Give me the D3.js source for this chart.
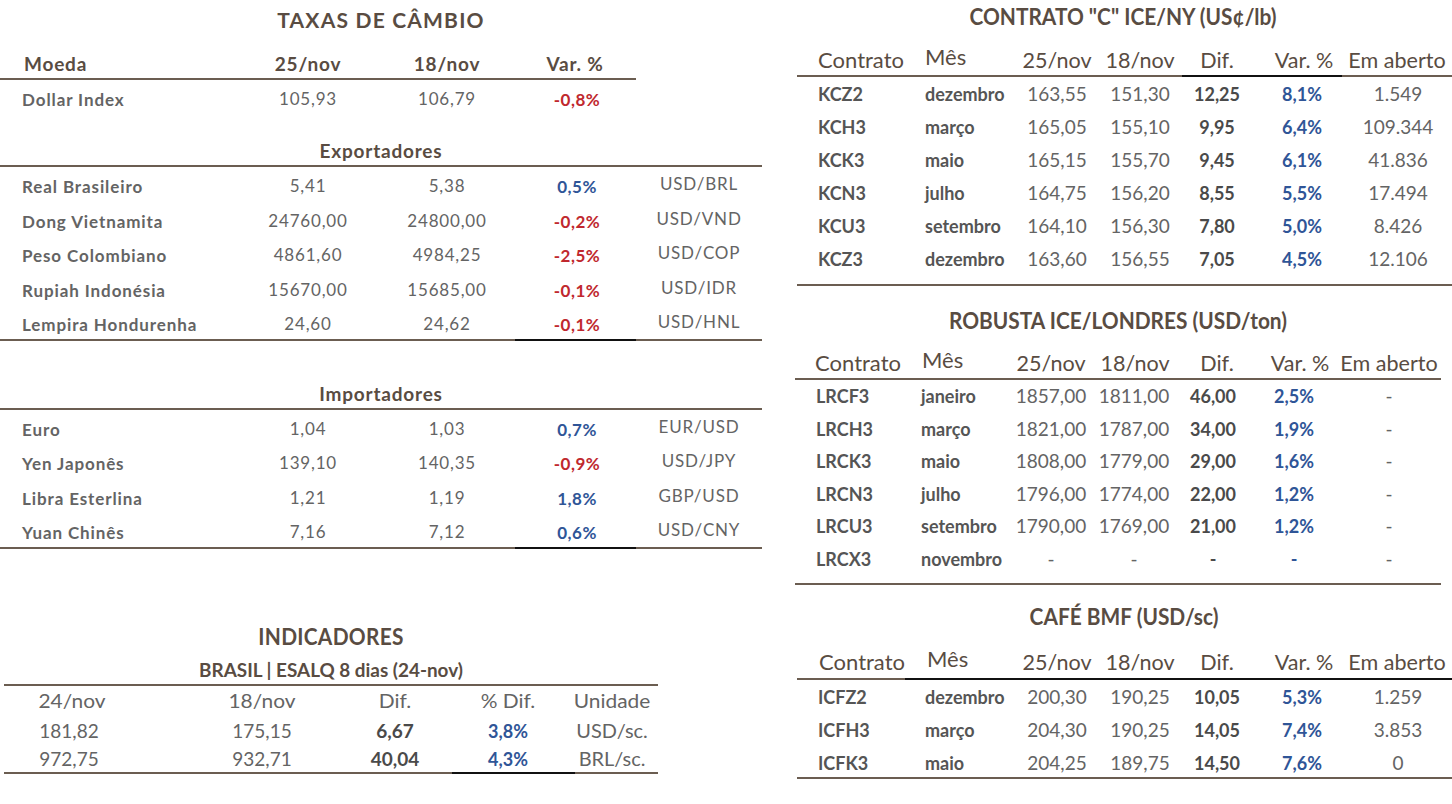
<!DOCTYPE html>
<html>
<head>
<meta charset="utf-8">
<script src="https://cdn.jsdelivr.net/npm/d3@7"></script>
<style>
  body { margin: 0; background: #fff; }
  svg { display: block; }
</style>
</head>
<body>
<svg id="board"></svg>
<script>
var W = 1452, H = 804;

// taxas de cambio
var fxHeader = ["Moeda", "25/nov", "18/nov", "Var. %"];
var dollarRow = ["Dollar Index", "105,93", "106,79", "-0,8%"];

var expNames = ["Real Brasileiro", "Dong Vietnamita", "Peso Colombiano", "Rupiah Indonésia", "Lempira Hondurenha"];
var exp25 = ["5,41", "24760,00", "4861,60", "15670,00", "24,60"];
var exp18 = ["5,38", "24800,00", "4984,25", "15685,00", "24,62"];
var expVar = ["0,5%", "-0,2%", "-2,5%", "-0,1%", "-0,1%"];
var expPair = ["USD/BRL", "USD/VND", "USD/COP", "USD/IDR", "USD/HNL"];

var impNames = ["Euro", "Yen Japonês", "Libra Esterlina", "Yuan Chinês"];
var imp25 = ["1,04", "139,10", "1,21", "7,16"];
var imp18 = ["1,03", "140,35", "1,19", "7,12"];
var impVar = ["0,7%", "-0,9%", "1,8%", "0,6%"];
var impPair = ["EUR/USD", "USD/JPY", "GBP/USD", "USD/CNY"];

// indicadores
var indHeader = ["24/nov", "18/nov", "Dif.", "% Dif.", "Unidade"];
var indNow = ["181,82", "972,75"];
var indPrev = ["175,15", "932,71"];
var indDif = ["6,67", "40,04"];
var indPct = ["3,8%", "4,3%"];
var indUnit = ["USD/sc.", "BRL/sc."];

// contratos
var ctHeader = ["Contrato", "Mês", "25/nov", "18/nov", "Dif.", "Var. %", "Em aberto"];

var nyCode = ["KCZ2", "KCH3", "KCK3", "KCN3", "KCU3", "KCZ3"];
var nyMonth = ["dezembro", "março", "maio", "julho", "setembro", "dezembro"];
var ny25 = ["163,55", "165,05", "165,15", "164,75", "164,10", "163,60"];
var ny18 = ["151,30", "155,10", "155,70", "156,20", "156,30", "156,55"];
var nyDif = ["12,25", "9,95", "9,45", "8,55", "7,80", "7,05"];
var nyVar = ["8,1%", "6,4%", "6,1%", "5,5%", "5,0%", "4,5%"];
var nyOpen = ["1.549", "109.344", "41.836", "17.494", "8.426", "12.106"];

var rbCode = ["LRCF3", "LRCH3", "LRCK3", "LRCN3", "LRCU3", "LRCX3"];
var rbMonth = ["janeiro", "março", "maio", "julho", "setembro", "novembro"];
var rb25 = ["1857,00", "1821,00", "1808,00", "1796,00", "1790,00", "-"];
var rb18 = ["1811,00", "1787,00", "1779,00", "1774,00", "1769,00", "-"];
var rbDif = ["46,00", "34,00", "29,00", "22,00", "21,00", "-"];
var rbVar = ["2,5%", "1,9%", "1,6%", "1,2%", "1,2%", "-"];
var rbOpen = ["-", "-", "-", "-", "-", "-"];

var bmCode = ["ICFZ2", "ICFH3", "ICFK3"];
var bmMonth = ["dezembro", "março", "maio"];
var bm25 = ["200,30", "204,30", "204,25"];
var bm18 = ["190,25", "190,25", "189,75"];
var bmDif = ["10,05", "14,05", "14,50"];
var bmVar = ["5,3%", "7,4%", "7,6%"];
var bmOpen = ["1.259", "3.853", "0"];

var BROWN = "#594c42", GREY = "#646464", DARK = "#4a4a4a",
    RED = "#c0282e", BLUE = "#2f5597", LINE = "#6b5d51";
var FONT = "Lato, 'Open Sans', sans-serif";

var svg = d3.select('#board')
    .attr('width', W)
    .attr('height', H)
    .style('font-family', FONT);

function txt(g, x, y, s, o) {
    o = o || {};
    let sx = o.sx || 1;
    g.append('text')
        .attr('transform', 'translate(' + x + ',' + y + ') scale(' + sx + ',1)')
        .attr('text-anchor', o.anchor || 'middle')
        .attr('font-size', o.size || 16)
        .attr('font-weight', o.weight || 400)
        .attr('fill', o.fill || GREY)
        .attr('letter-spacing', o.ls || 0)
        .text(s);
}

function rule(g, x1, x2, y, col, w) {
    g.append('line')
        .attr('x1', x1).attr('x2', x2)
        .attr('y1', y).attr('y2', y)
        .attr('stroke', col || LINE)
        .attr('stroke-width', w || 2);
}

function varColor(v) {
    if (v == "-") return BLUE;
    return v.charAt(0) == "-" ? RED : BLUE;
}

// ---------- left: taxas de cambio ----------
var left = svg.append('g');
var fxX = d3.scaleOrdinal()
    .domain(["name", "v25", "v18", "var", "pair"])
    .range([22, 308, 447, 577, 699]);
var LS = 0.8;  // wide look of the original font

txt(left, 381, 28, "TAXAS DE CÂMBIO", {size: 21, weight: 700, fill: BROWN, ls: 1.2});
txt(left, 24, 71, fxHeader[0], {anchor: 'start', size: 19, weight: 700, fill: BROWN, ls: LS});
txt(left, fxX("v25"), 71, fxHeader[1], {size: 19, weight: 700, fill: BROWN, ls: LS});
txt(left, fxX("v18"), 71, fxHeader[2], {size: 19, weight: 700, fill: BROWN, ls: LS});
txt(left, 575, 71, fxHeader[3], {size: 19, weight: 700, fill: BROWN, ls: LS});
rule(left, 0, 636, 79);

function fxRow(g, y, name, a, b, v, pair) {
    txt(g, fxX("name"), y, name, {anchor: 'start', size: 17, weight: 700, fill: GREY, ls: 0.9});
    txt(g, fxX("v25"), y - 1, a, {size: 17, fill: GREY, ls: LS});
    txt(g, fxX("v18"), y - 1, b, {size: 17, fill: GREY, ls: LS});
    txt(g, fxX("var"), y, v, {size: 17, weight: 700, fill: varColor(v), ls: 0.5});
    if (pair) txt(g, fxX("pair"), y - 3, pair, {size: 17, fill: GREY, ls: LS});
}
fxRow(left, 106, dollarRow[0], dollarRow[1], dollarRow[2], dollarRow[3]);

txt(left, 381, 158, "Exportadores", {size: 19, weight: 700, fill: BROWN, ls: LS});
rule(left, 0, 762, 166);
var expY = d3.scalePoint().domain(expNames).range([193, 331]);
expNames.forEach((n, i) => fxRow(left, expY(n), n, exp25[i], exp18[i], expVar[i], expPair[i]));
rule(left, 0, 762, 340);
rule(left, 515, 636, 340, "#111");

txt(left, 381, 401, "Importadores", {size: 19, weight: 700, fill: BROWN, ls: LS});
rule(left, 0, 762, 409);
var impY = d3.scalePoint().domain(impNames).range([436, 539]);
impNames.forEach((n, i) => fxRow(left, impY(n), n, imp25[i], imp18[i], impVar[i], impPair[i]));
rule(left, 0, 762, 548);
rule(left, 515, 636, 548, "#111");

// ---------- left bottom: indicadores ----------
var ind = svg.append('g');
var indX = d3.scaleOrdinal()
    .domain(indHeader)
    .range([72, 262, 395, 508, 612]);
txt(ind, 331, 645, "INDICADORES", {size: 22, weight: 700, fill: BROWN, sx: 0.95, ls: 0.3});
txt(ind, 331, 677, "BRASIL | ESALQ 8 dias (24-nov)", {size: 18, weight: 700, fill: BROWN, sx: 1.05});
rule(ind, 4, 658, 685);
indHeader.forEach(h => txt(ind, indX(h), 708, h, {size: 19, fill: GREY, sx: 1.1}));
var indY = d3.scalePoint().domain([0, 1]).range([738, 766]);
[0, 1].forEach(i => {
    let y = indY(i);
    txt(ind, indX("24/nov") - 3, y, indNow[i], {size: 19, fill: GREY, sx: 1.0});
    txt(ind, indX("18/nov"), y, indPrev[i], {size: 19, fill: GREY, sx: 1.0});
    txt(ind, indX("Dif."), y, indDif[i], {size: 19, weight: 700, fill: DARK, sx: 1.0});
    txt(ind, indX("% Dif."), y, indPct[i], {size: 18, weight: 700, fill: BLUE, sx: 1.0});
    txt(ind, indX("Unidade"), y, indUnit[i], {size: 19, fill: GREY, sx: 1.05});
});
rule(ind, 4, 658, 773);
rule(ind, 452, 575, 773, "#111");

// ---------- right: contratos ----------
var right = svg.append('g');
var SX = 1.0;

function contractTable(g, o) {
    txt(g, o.titleX, o.titleY, o.title, {size: 22, weight: 700, fill: BROWN, sx: 0.95});
    // header
    txt(g, o.hx[0], o.hy, "Contrato", {size: 22, fill: BROWN, sx: 1.0});
    txt(g, o.hx[1], o.hy - 3, "Mês", {anchor: 'start', size: 22, fill: BROWN, sx: 1.0});
    for (let k = 2; k < 7; k++) {
        txt(g, o.hx[k], o.hy, ctHeader[k], {size: 22, fill: BROWN, sx: 0.98});
    }
    rule(g, o.x1, o.x2, o.lineY);
    if (o.dark) rule(g, o.dark[0], o.dark[1], o.lineY, "#111");

    let y = d3.scalePoint().domain(o.code).range(o.rowRange);
    o.code.forEach((c, i) => {
        let yy = y(c);
        txt(g, o.codeX, yy, c, {anchor: 'start', size: 18, weight: 700, fill: "#555", sx: SX});
        txt(g, o.monthX, yy, o.month[i], {anchor: 'start', size: 18, weight: 700, fill: "#555", sx: SX});
        txt(g, o.cx[0], yy, o.v25[i], {size: 19, fill: GREY, sx: SX});
        txt(g, o.cx[1], yy, o.v18[i], {size: 19, fill: GREY, sx: SX});
        txt(g, o.cx[2], yy, o.dif[i], {size: 18, weight: 700, fill: DARK, sx: SX});
        txt(g, o.cx[3], yy, o.vr[i], {size: 18, weight: 700, fill: varColor(o.vr[i]), sx: SX});
        txt(g, o.cx[4], yy, o.open[i], {size: 19, fill: GREY, sx: SX});
    });
    rule(g, o.x1, o.x2, o.bottomY);
}

contractTable(right, {
    title: 'CONTRATO "C" ICE/NY (US¢/lb)', titleX: 1123, titleY: 25,
    hy: 68, hx: [861, 925, 1057, 1140, 1217, 1304, 1397],
    x1: 797, x2: 1452, lineY: 76, dark: [1182, 1342],
    code: nyCode, month: nyMonth, v25: ny25, v18: ny18, dif: nyDif, vr: nyVar, open: nyOpen,
    codeX: 818, monthX: 925, cx: [1057, 1140, 1217, 1302, 1398],
    rowRange: [101, 266], bottomY: 285
});

contractTable(right, {
    title: 'ROBUSTA ICE/LONDRES (USD/ton)', titleX: 1118, titleY: 329,
    hy: 371, hx: [858, 922, 1051, 1135, 1217, 1300, 1389],
    x1: 795, x2: 1441, lineY: 379,
    code: rbCode, month: rbMonth, v25: rb25, v18: rb18, dif: rbDif, vr: rbVar, open: rbOpen,
    codeX: 816, monthX: 921, cx: [1051, 1134, 1213, 1294, 1389],
    rowRange: [403, 566], bottomY: 584
});

contractTable(right, {
    title: 'CAFÉ BMF (USD/sc)', titleX: 1124, titleY: 625,
    hy: 670, hx: [862, 927, 1057, 1140, 1217, 1304, 1397],
    x1: 797, x2: 1452, lineY: 679, dark: [905, 1452],
    code: bmCode, month: bmMonth, v25: bm25, v18: bm18, dif: bmDif, vr: bmVar, open: bmOpen,
    codeX: 818, monthX: 925, cx: [1057, 1140, 1217, 1302, 1398],
    rowRange: [704, 770], bottomY: 778
});
</script>
</body>
</html>
